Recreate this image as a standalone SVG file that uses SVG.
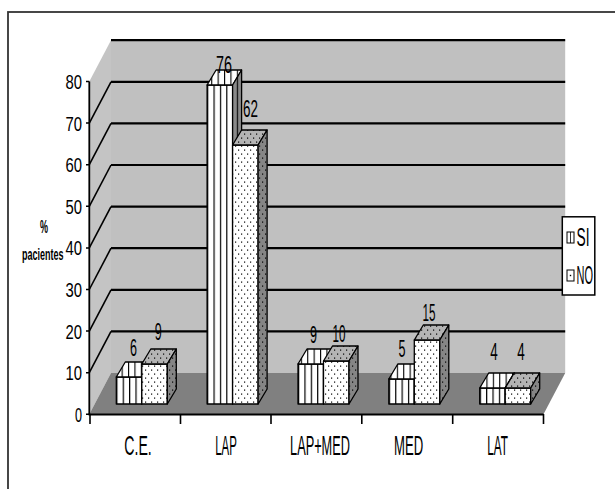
<svg xmlns="http://www.w3.org/2000/svg" width="615" height="489" viewBox="0 0 615 489">
<style>
text{font-family:"Liberation Sans",Arial,sans-serif;fill:#000}
.ax{font-size:21px;text-anchor:end}
.val{font-size:23px;text-anchor:middle}
.cat{font-size:28px;text-anchor:middle}
.leg{font-size:26px}
.grid{stroke:#000;stroke-width:2.2;fill:none}
.diag{stroke:#000;stroke-width:1.6;fill:none}
.bar{stroke:#000;stroke-width:1.3;stroke-linejoin:round}
.siF{fill:url(#vF)}
.siT{fill:url(#vW)}
.siS{fill:url(#vD)}
.noF{fill:url(#dW)}
.noT{fill:url(#dL)}
.noS{fill:url(#dD)}
</style>
<defs>
<pattern id="vF" patternUnits="objectBoundingBox" width="0.25" height="1"><rect width="60" height="1000" fill="#fff"/><rect x="0" y="0" width="1.2" height="1000" fill="#000"/></pattern>
<pattern id="vW" patternUnits="userSpaceOnUse" width="6.4" height="10"><rect width="6.4" height="10" fill="#fff"/><rect x="0" y="0" width="1.1" height="10" fill="#000"/></pattern>
<pattern id="vD" patternUnits="userSpaceOnUse" width="6.4" height="10"><rect width="6.4" height="10" fill="#8a8a8a"/><rect x="0" y="0" width="1.1" height="10" fill="#000"/></pattern>
<pattern id="dW" patternUnits="userSpaceOnUse" width="6" height="8"><rect width="6" height="8" fill="#fff"/><rect x="1" y="1.5" width="1.2" height="1.2" fill="#000"/><rect x="4" y="5.5" width="1.2" height="1.2" fill="#000"/></pattern>
<pattern id="dL" patternUnits="userSpaceOnUse" width="6" height="8"><rect width="6" height="8" fill="#b4b4b4"/><rect x="1" y="1.5" width="1.2" height="1.2" fill="#000"/><rect x="4" y="5.5" width="1.2" height="1.2" fill="#000"/></pattern>
<pattern id="dD" patternUnits="userSpaceOnUse" width="6" height="8"><rect width="6" height="8" fill="#858585"/><rect x="1" y="1.5" width="1.2" height="1.2" fill="#000"/><rect x="4" y="5.5" width="1.2" height="1.2" fill="#000"/></pattern>
</defs>
<rect width="615" height="489" fill="#fff"/>
<rect x="8" y="12" width="640" height="520" fill="none" stroke="#333" stroke-width="1.8"/>
<g id="walls">
<polygon points="111,40.2 565.2,40.2 565.2,373 111,373" fill="#c0c0c0"/>
<polygon points="89.3,81.5 111,40.2 111,373 89.3,414.3" fill="#c4c4c4"/>
<polygon points="89.3,414.3 543.5,414.3 565.2,373 111,373" fill="#808080"/>
</g>
<g id="gridlines">
<line class="grid" x1="111" y1="40.2" x2="565.2" y2="40.2" stroke-width="3"/>
<line class="grid" x1="111" y1="81.8" x2="565.2" y2="81.8"/>
<line class="grid" x1="111" y1="123.4" x2="565.2" y2="123.4"/>
<line class="grid" x1="111" y1="165" x2="565.2" y2="165"/>
<line class="grid" x1="111" y1="206.6" x2="565.2" y2="206.6"/>
<line class="grid" x1="111" y1="248.2" x2="565.2" y2="248.2"/>
<line class="grid" x1="111" y1="289.8" x2="565.2" y2="289.8"/>
<line class="grid" x1="111" y1="331.4" x2="565.2" y2="331.4"/>
<line class="diag" x1="89.3" y1="123.1" x2="111" y2="81.8"/>
<line class="diag" x1="89.3" y1="164.7" x2="111" y2="123.4"/>
<line class="diag" x1="89.3" y1="206.3" x2="111" y2="165"/>
<line class="diag" x1="89.3" y1="247.9" x2="111" y2="206.6"/>
<line class="diag" x1="89.3" y1="289.5" x2="111" y2="248.2"/>
<line class="diag" x1="89.3" y1="331.1" x2="111" y2="289.8"/>
<line class="diag" x1="89.3" y1="372.7" x2="111" y2="331.4"/>
</g>
<g id="axes" stroke="#000" fill="none">
<line x1="89.3" y1="81.5" x2="89.3" y2="415" stroke-width="1.8"/>
<line x1="88.5" y1="414.6" x2="543.5" y2="414.6" stroke-width="2"/>
<path d="M86,81.5H89.3M86,123.1H89.3M86,164.7H89.3M86,206.3H89.3M86,247.9H89.3M86,289.5H89.3M86,331.1H89.3M86,372.7H89.3M86,414.3H89.3" stroke-width="1.5"/>
<path d="M90,414V424M180.5,414V424M271,414V424M361.8,414V424M452.7,414V424M543.5,414V424" stroke-width="1.6"/>
</g>
<g id="bar-ce-si" class="bar">
<rect class="siF" x="116.3" y="377" width="25.5" height="27"/>
<polygon class="siT" points="116.3,377 141.8,377 150.8,362 125.3,362"/>
<polygon class="siS" points="141.8,377 150.8,362 150.8,389 141.8,404"/>
</g>
<g id="bar-ce-no" class="bar">
<rect class="noF" x="141.8" y="364" width="25.5" height="40"/>
<polygon class="noT" points="141.8,364 167.3,364 176.3,349 150.8,349"/>
<polygon class="noS" points="167.3,364 176.3,349 176.3,389 167.3,404"/>
</g>
<g id="bar-lap-si" class="bar">
<rect class="siF" x="207.1" y="85" width="25.5" height="319"/>
<polygon class="siT" points="207.1,85 232.6,85 241.6,70 216.1,70"/>
<polygon class="siS" points="232.6,85 241.6,70 241.6,389 232.6,404"/>
</g>
<g id="bar-lap-no" class="bar">
<rect class="noF" x="232.6" y="145" width="25.5" height="259"/>
<polygon class="noT" points="232.6,145 258.1,145 267.1,130 241.6,130"/>
<polygon class="noS" points="258.1,145 267.1,130 267.1,389 258.1,404"/>
</g>
<g id="bar-lapmed-si" class="bar">
<rect class="siF" x="298" y="364" width="25.5" height="40"/>
<polygon class="siT" points="298,364 323.5,364 332.5,349 307,349"/>
<polygon class="siS" points="323.5,364 332.5,349 332.5,389 323.5,404"/>
</g>
<g id="bar-lapmed-no" class="bar">
<rect class="noF" x="323.5" y="361" width="25.5" height="43"/>
<polygon class="noT" points="323.5,361 349,361 358,346 332.5,346"/>
<polygon class="noS" points="349,361 358,346 358,389 349,404"/>
</g>
<g id="bar-med-si" class="bar">
<rect class="siF" x="388.8" y="379" width="25.5" height="25"/>
<polygon class="siT" points="388.8,379 414.3,379 423.3,364 397.8,364"/>
<polygon class="siS" points="414.3,379 423.3,364 423.3,389 414.3,404"/>
</g>
<g id="bar-med-no" class="bar">
<rect class="noF" x="414.3" y="340" width="25.5" height="64"/>
<polygon class="noT" points="414.3,340 439.8,340 448.8,325 423.3,325"/>
<polygon class="noS" points="439.8,340 448.8,325 448.8,389 439.8,404"/>
</g>
<g id="bar-lat-si" class="bar">
<rect class="siF" x="479.7" y="388" width="25.5" height="16"/>
<polygon class="siT" points="479.7,388 505.2,388 514.2,373 488.7,373"/>
<polygon class="siS" points="505.2,388 514.2,373 514.2,389 505.2,404"/>
</g>
<g id="bar-lat-no" class="bar">
<rect class="noF" x="505.2" y="388" width="25.5" height="16"/>
<polygon class="noT" points="505.2,388 530.7,388 539.7,373 514.2,373"/>
<polygon class="noS" points="530.7,388 539.7,373 539.7,389 530.7,404"/>
</g>
<g id="value-labels">
<text class="val" transform="translate(133.5,356) scale(0.547,1)">6</text>
<text class="val" transform="translate(158.3,340) scale(0.547,1)">9</text>
<text class="val" transform="translate(224,73) scale(0.625,1)">76</text>
<text class="val" transform="translate(250.5,117) scale(0.586,1)">62</text>
<text class="val" transform="translate(313.5,343) scale(0.547,1)">9</text>
<text class="val" transform="translate(339,342) scale(0.508,1)">10</text>
<text class="val" transform="translate(402,357) scale(0.547,1)">5</text>
<text class="val" transform="translate(429,321) scale(0.508,1)">15</text>
<text class="val" transform="translate(494,360) scale(0.586,1)">4</text>
<text class="val" transform="translate(521,360) scale(0.586,1)">4</text>
</g>
<g id="y-axis-labels">
<text class="ax" transform="translate(82,89) scale(0.707,1)">80</text>
<text class="ax" transform="translate(82,130.6) scale(0.707,1)">70</text>
<text class="ax" transform="translate(82,172.2) scale(0.707,1)">60</text>
<text class="ax" transform="translate(82,213.8) scale(0.707,1)">50</text>
<text class="ax" transform="translate(82,255.4) scale(0.707,1)">40</text>
<text class="ax" transform="translate(82,297) scale(0.707,1)">30</text>
<text class="ax" transform="translate(82,338.6) scale(0.707,1)">20</text>
<text class="ax" transform="translate(82,380.2) scale(0.707,1)">10</text>
<text class="ax" transform="translate(82,421.8) scale(0.6,1)">0</text>
</g>
<g id="y-title">
<text transform="translate(44,233) scale(0.5,1)" font-size="18" font-weight="bold" text-anchor="middle">%</text>
<text transform="translate(22,260) scale(0.562,1)" font-size="16" font-weight="bold">pacientes</text>
</g>
<g id="category-labels">
<text class="cat" transform="translate(138,455) scale(0.505,1)">C.E.</text>
<text class="cat" transform="translate(226,455) scale(0.41,1)">LAP</text>
<text class="cat" transform="translate(320,455) scale(0.456,1)">LAP+MED</text>
<text class="cat" transform="translate(408.7,455) scale(0.47,1)">MED</text>
<text class="cat" transform="translate(497.5,455) scale(0.42,1)">LAT</text>
</g>
<g id="legend">
<rect x="562.3" y="216.8" width="32.5" height="78.2" fill="#fff" stroke="#000" stroke-width="1.5"/>
<rect x="567" y="232" width="7" height="11" fill="#fff" stroke="#000" stroke-width="1"/>
<line x1="570.5" y1="232" x2="570.5" y2="243" stroke="#000" stroke-width="0.8"/>
<text class="leg" transform="translate(576.5,246) scale(0.529,1)">SI</text>
<rect x="567" y="270" width="7" height="11" fill="#fff" stroke="#000" stroke-width="1"/>
<rect x="569.8" y="274.8" width="1.4" height="1.4" fill="#000"/>
<text class="leg" transform="translate(576.5,283.5) scale(0.423,1)">NO</text>
</g>
</svg>
